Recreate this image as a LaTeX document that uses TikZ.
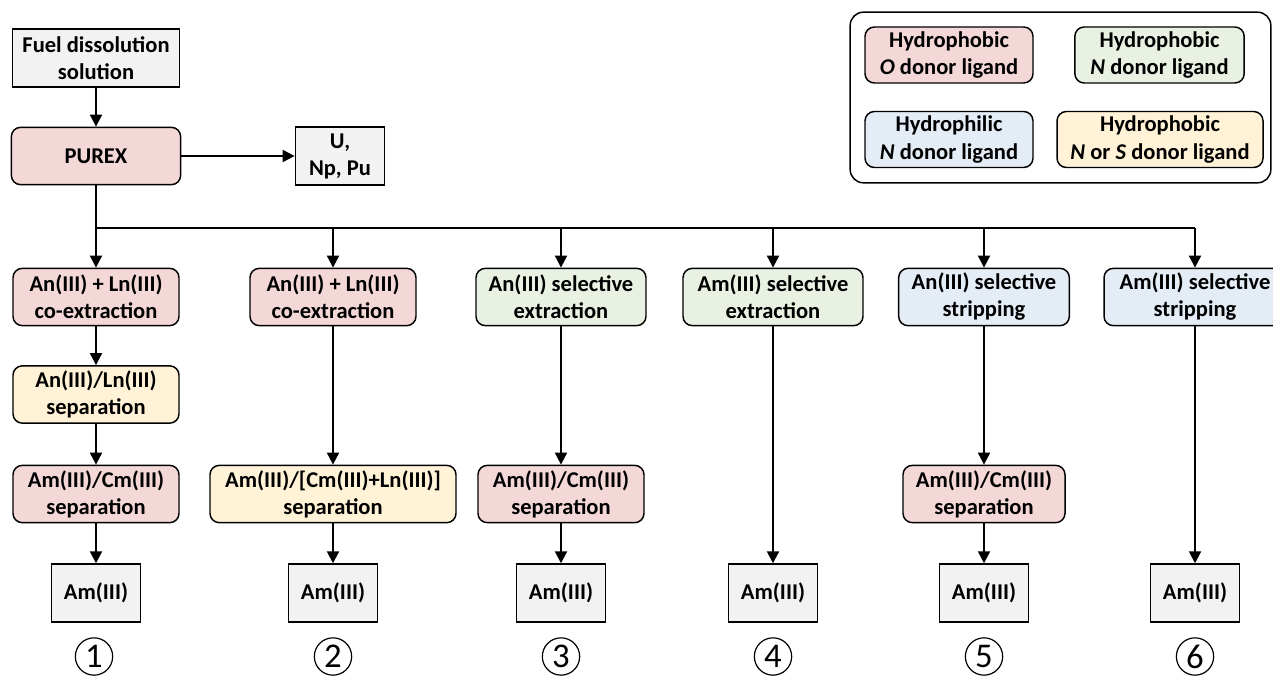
\documentclass[tikz,border=0pt]{standalone}
\usepackage{fontspec}
\setmainfont{Carlito}
\usetikzlibrary{arrows.meta}
\definecolor{hydroO}{RGB}{244,216,216}
\definecolor{hydroN}{RGB}{233,241,227}
\definecolor{philN}{RGB}{228,236,246}
\definecolor{hydroNS}{RGB}{255,242,214}
\definecolor{feed}{RGB}{242,242,242}
\tikzset{>={Triangle[length=9pt,width=9pt]}}
\tikzset{%
    stage/.style={draw,line width=1.1pt,rounded corners=7pt,align=center,
        font=\fontsize{16.9}{20.3}\selectfont\bfseries,
        minimum width=124.5pt,minimum height=43pt,inner sep=1pt},
    product/.style={draw,line width=1.1pt,fill=feed,align=center,
        font=\fontsize{16.9}{20.3}\selectfont\bfseries,
        minimum width=67pt,minimum height=43.5pt,inner sep=1pt},
    flow/.style={->,line width=1.5pt},
    route/.style={circle,draw,line width=0.9pt,minimum size=28pt,inner sep=0pt,
        font=\fontsize{26}{26}\selectfont}
}

\begin{document}
\begin{tikzpicture}[x=0.75pt,y=-0.75pt]
\useasboundingbox (0,0) rectangle (1273,677);

\node[product,minimum width=125pt] (fuel) at (96,58) {Fuel dissolution\\solution};
\node[stage,fill=hydroO,minimum width=127pt] (purex) at (96,156) {PUREX};
\node[product] (unpu) at (340,156) {U,\\Np, Pu};

\node[stage,fill=hydroO] (c1a) at (96,297) {An(III) + Ln(III)\\co-extraction};
\node[stage,fill=hydroNS] (c1b) at (96,394.5) {An(III)/Ln(III)\\separation};
\node[stage,fill=hydroO] (c1c) at (96,494) {Am(III)/Cm(III)\\separation};
\node[product] (c1d) at (96,593) {Am(III)};

\node[stage,fill=hydroO] (c2a) at (333,297) {An(III) + Ln(III)\\co-extraction};
\node[stage,fill=hydroNS,minimum width=184.5pt] (c2b) at (333,494) {Am(III)/[Cm(III)+Ln(III)]\\separation};
\node[product] (c2d) at (333,593) {Am(III)};

\node[stage,fill=hydroN,minimum width=127.5pt] (c3a) at (561,297) {An(III) selective\\extraction};
\node[stage,fill=hydroO] (c3b) at (561,494) {Am(III)/Cm(III)\\separation};
\node[product] (c3d) at (561,593) {Am(III)};

\node[stage,fill=hydroN,minimum width=135pt] (c4a) at (773,297) {Am(III) selective\\extraction};
\node[product] (c4d) at (773,593) {Am(III)};

\node[stage,fill=philN,minimum width=128pt] (c5a) at (984,297) {An(III) selective\\stripping};
\node[stage,fill=hydroO,minimum width=121.5pt] (c5b) at (984,494) {Am(III)/Cm(III)\\separation};
\node[product] (c5d) at (984,593) {Am(III)};

\node[stage,fill=philN,minimum width=136.5pt] (c6a) at (1195,297) {Am(III) selective\\stripping};
\node[product] (c6d) at (1195,593) {Am(III)};

\node[route] (r1) at (94,656.5) {1};
\node[route] (r2) at (333,656.5) {2};
\node[route] (r3) at (561,656.5) {3};
\node[route] (r4) at (773,656.5) {4};
\node[route] (r5) at (984,656.5) {5};
\node[route] (r6) at (1195,656.5) {6};

\coordinate (b1) at (96,228);
\coordinate (b2) at (333,228);
\coordinate (b3) at (561,228);
\coordinate (b4) at (773,228);
\coordinate (b5) at (984,228);
\coordinate (b6) at (1195,228);

\draw[flow] (fuel) -- (purex);
\draw[flow] (purex) -- (unpu);
\draw[line width=1.5pt] (purex.south) -- (b1) -- (b6);
\draw[flow] (b1) -- (c1a);
\draw[flow] (b2) -- (c2a);
\draw[flow] (b3) -- (c3a);
\draw[flow] (b4) -- (c4a);
\draw[flow] (b5) -- (c5a);
\draw[flow] (b6) -- (c6a);

\draw[flow] (c1a) -- (c1b);
\draw[flow] (c1b) -- (c1c);
\draw[flow] (c1c) -- (c1d);
\draw[flow] (c2a) -- (c2b);
\draw[flow] (c2b) -- (c2d);
\draw[flow] (c3a) -- (c3b);
\draw[flow] (c3b) -- (c3d);
\draw[flow] (c4a) -- (c4d);
\draw[flow] (c5a) -- (c5b);
\draw[flow] (c5b) -- (c5d);
\draw[flow] (c6a) -- (c6d);

\node[draw,line width=1.1pt,rounded corners=10pt,minimum width=315.5pt,minimum height=128pt] (legend) at (1060.5,97.5) {};
\node[stage,fill=hydroO,minimum width=126pt,minimum height=42pt] (legO) at (949,55) {Hydrophobic\\\textit{O} donor ligand};
\node[stage,fill=hydroN,minimum width=127pt,minimum height=42pt] (legN) at (1159.5,55) {Hydrophobic\\\textit{N} donor ligand};
\node[stage,fill=philN,minimum width=126pt,minimum height=42pt] (legP) at (949,139.5) {Hydrophilic\\\textit{N} donor ligand};
\node[stage,fill=hydroNS,minimum width=154.5pt,minimum height=42pt] (legS) at (1160,139.5) {Hydrophobic\\\textit{N} or \textit{S} donor ligand};
\end{tikzpicture}
\end{document}
